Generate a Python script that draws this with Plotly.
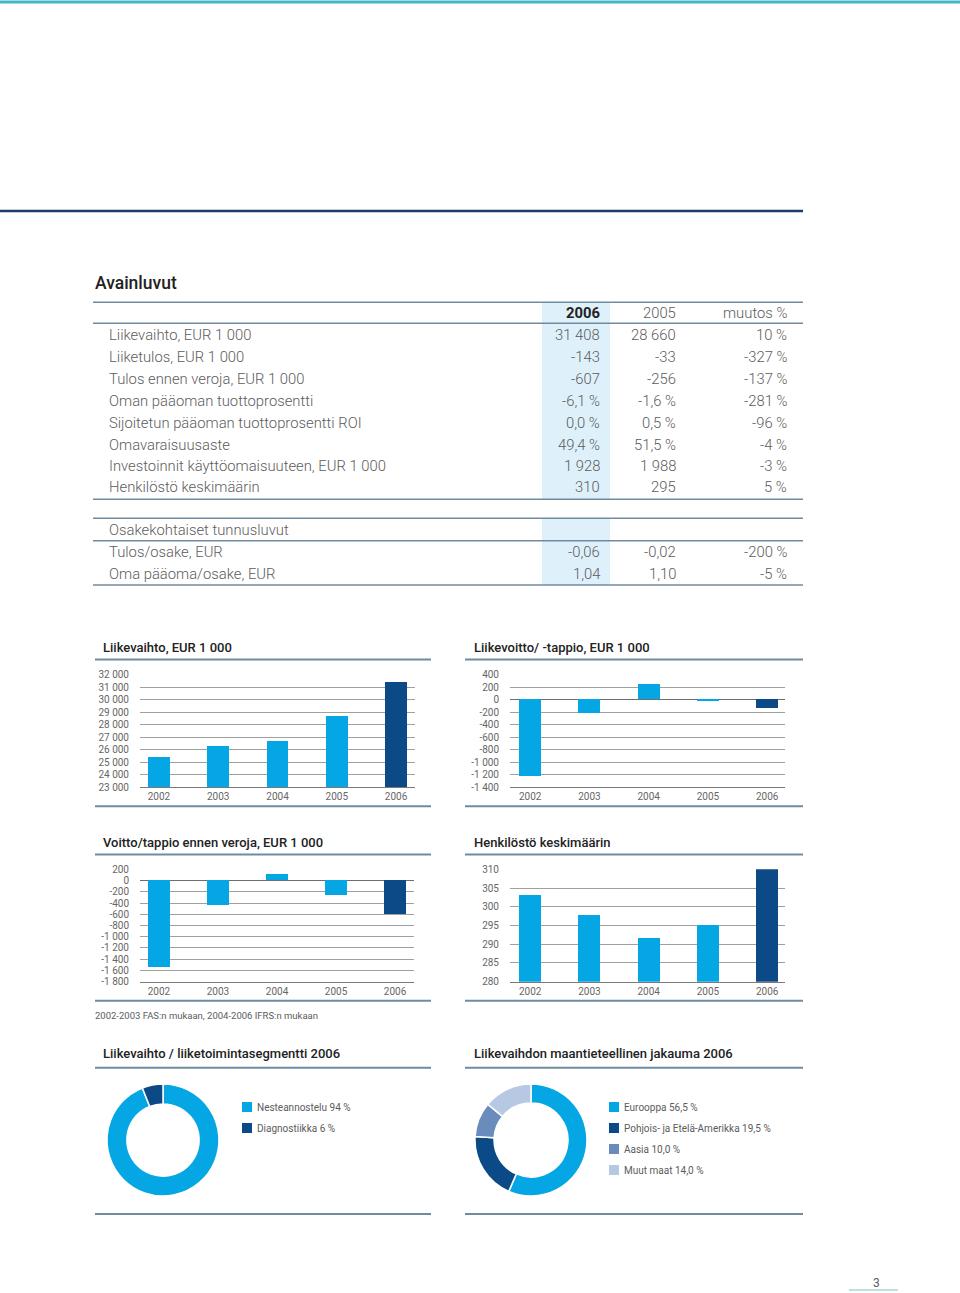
import plotly.graph_objects as go

# ---------------- data ----------------
table_title = "Avainluvut"
table_header = ["2006", "2005", "muutos %"]
table_labels = [
    "Liikevaihto, EUR 1 000",
    "Liiketulos, EUR 1 000",
    "Tulos ennen veroja, EUR 1 000",
    "Oman pääoman tuottoprosentti",
    "Sijoitetun pääoman tuottoprosentti ROI",
    "Omavaraisuusaste",
    "Investoinnit käyttöomaisuuteen, EUR 1 000",
    "Henkilöstö keskimäärin",
]
table_2006 = ["31 408", "-143", "-607", "-6,1 %", "0,0 %", "49,4 %", "1 928", "310"]
table_2005 = ["28 660", "-33", "-256", "-1,6 %", "0,5 %", "51,5 %", "1 988", "295"]
table_change = ["10 %", "-327 %", "-137 %", "-281 %", "-96 %", "-4 %", "-3 %", "5 %"]

share_title = "Osakekohtaiset tunnusluvut"
share_labels = ["Tulos/osake, EUR", "Oma pääoma/osake, EUR"]
share_2006 = ["-0,06", "1,04"]
share_2005 = ["-0,02", "1,10"]
share_change = ["-200 %", "-5 %"]

years = ["2002", "2003", "2004", "2005", "2006"]

c1_title = "Liikevaihto, EUR 1 000"
liikevaihto = [25400, 26300, 26650, 28660, 31408]
c1_ticks = [23000, 24000, 25000, 26000, 27000, 28000, 29000, 30000, 31000, 32000]
c1_ticktext = ["23 000", "24 000", "25 000", "26 000", "27 000", "28 000", "29 000", "30 000", "31 000", "32 000"]

c2_title = "Liikevoitto/ -tappio, EUR 1 000"
liikevoitto = [-1230, -214, 251, -33, -143]
c2_ticks = [400, 200, 0, -200, -400, -600, -800, -1000, -1200, -1400]
c2_ticktext = ["400", "200", "0", "-200", "-400", "-600", "-800", "-1 000", "-1 200", "-1 400"]

c3_title = "Voitto/tappio ennen veroja, EUR 1 000"
voitto_ennen_veroja = [-1543, -439, 119, -256, -607]
c3_ticks = [200, 0, -200, -400, -600, -800, -1000, -1200, -1400, -1600, -1800]
c3_ticktext = ["200", "0", "-200", "-400", "-600", "-800", "-1 000", "-1 200", "-1 400", "-1 600", "-1 800"]

c4_title = "Henkilöstö keskimäärin"
henkilosto = [303.1, 297.7, 291.6, 295, 310]
c4_ticks = [280, 285, 290, 295, 300, 305, 310]
c4_ticktext = ["280", "285", "290", "295", "300", "305", "310"]

footnote = "2002-2003 FAS:n mukaan, 2004-2006 IFRS:n mukaan"

p1_title = "Liikevaihto / liiketoimintasegmentti 2006"
p1_labels = ["Nesteannostelu 94 %", "Diagnostiikka 6 %"]
p1_values = [94, 6]

p2_title = "Liikevaihdon maantieteellinen jakauma 2006"
p2_labels = ["Eurooppa 56,5 %", "Pohjois- ja Etelä-Amerikka 19,5 %", "Aasia 10,0 %", "Muut maat 14,0 %"]
p2_values = [56.5, 19.5, 10.0, 14.0]

page_number = "3"

# ---------------- styles ----------------
W, H = 960, 1293
FONT = "Roboto"
LIGHT = "#04a6e4"
DARK = "#0b4a86"
P2_COLORS = [LIGHT, DARK, "#6a8cbd", "#b7c8e2"]
TEXT = "#5c5c5c"
HEAD = "#222222"
RULE = "#6f8ba1"
GRID = "#a0a0a0"
HIGHLIGHT = "#def1fb"


def X(px):
    return px / W


def Y(py):
    return 1 - py / H


fig = go.Figure()
annotations = []
shapes = []


def text(x, y, s, size=14.8, color=TEXT, anchor="left", weight=300):
    dx = -2 if anchor == "left" else 2
    annotations.append(dict(
        x=X(x + dx), y=Y(y + 0.5), xref="paper", yref="paper", text=s, showarrow=False,
        xanchor=anchor, yanchor="middle",
        font=dict(family=FONT, size=size, color=color, weight=weight),
    ))


def hline(x0, x1, y, color=RULE, width=1.5):
    shapes.append(dict(type="line", xref="paper", yref="paper",
                       x0=X(x0), x1=X(x1), y0=Y(y), y1=Y(y),
                       line=dict(color=color, width=width)))


def rect(x0, x1, y0, y1, color):
    shapes.append(dict(type="rect", xref="paper", yref="paper",
                       x0=X(x0), x1=X(x1), y0=Y(y0), y1=Y(y1),
                       fillcolor=color, line=dict(width=0), layer="below"))


# page decorations
hline(0, 960, 2, color="#41b5ca", width=3)
hline(0, 803, 211, color="#1c3d66", width=2.5)

# ---------------- key figures table ----------------
rect(542, 610, 303, 499, HIGHLIGHT)
rect(542, 610, 518, 585, HIGHLIGHT)

text(95, 283, table_title, size=17.5, color=HEAD, weight=500)
for yy in [302.3, 323.3, 499.3, 518.3, 540.7, 585]:
    hline(93, 803, yy)

col_x = [600, 676, 787]
text(col_x[0], 313, table_header[0], color=HEAD, anchor="right", weight="bold")
text(col_x[1], 313, table_header[1], anchor="right")
text(col_x[2], 313, table_header[2], anchor="right")

row_y = [335, 357, 379, 400.7, 422.3, 444, 465, 486.7]
for i, lab in enumerate(table_labels):
    text(109, row_y[i], lab)
    text(col_x[0], row_y[i], table_2006[i], anchor="right")
    text(col_x[1], row_y[i], table_2005[i], anchor="right")
    text(col_x[2], row_y[i], table_change[i], anchor="right")

text(109, 529.5, share_title)
share_y = [551.7, 573.3]
for i, lab in enumerate(share_labels):
    text(109, share_y[i], lab)
    text(col_x[0], share_y[i], share_2006[i], anchor="right")
    text(col_x[1], share_y[i], share_2005[i], anchor="right")
    text(col_x[2], share_y[i], share_change[i], anchor="right")

# ---------------- bar charts ----------------
bar_colors = [LIGHT] * 4 + [DARK]
charts = [
    dict(title=c1_title, vals=liikevaihto, ticks=c1_ticks, tt=c1_ticktext, rng=[22985, 32015],
         xd=(140, 415), yd=(674.3, 787.3), tx=103, ty=647, sec=(95, 431), xr=[-0.32, 4.32], zl=False),
    dict(title=c2_title, vals=liikevoitto, ticks=c2_ticks, tt=c2_ticktext, rng=[-1403, 403],
         xd=(510, 785), yd=(674.3, 787.3), tx=474, ty=647, sec=(465, 803), xr=[-0.34, 4.30], zl=True),
    dict(title=c3_title, vals=voitto_ennen_veroja, ticks=c3_ticks, tt=c3_ticktext, rng=[-1803, 203],
         xd=(140, 414), yd=(869.3, 981.7), tx=103, ty=842, sec=(95, 431), xr=[-0.32, 4.32], zl=True),
    dict(title=c4_title, vals=henkilosto, ticks=c4_ticks, tt=c4_ticktext, rng=[279.95, 310.05],
         xd=(510, 785), yd=(869.3, 981.7), tx=474, ty=842, sec=(465, 803), xr=[-0.34, 4.30], zl=False),
]

layout_axes = {}
for k, c in enumerate(charts, start=1):
    sfx = "" if k == 1 else str(k)
    fig.add_trace(go.Bar(
        x=years, y=c["vals"], marker=dict(color=bar_colors, line=dict(width=0)),
        width=0.37, xaxis="x" + sfx, yaxis="y" + sfx, hoverinfo="skip",
        showlegend=False,
    ))
    layout_axes["xaxis" + sfx] = dict(
        domain=[X(c["xd"][0]), X(c["xd"][1])], anchor="y" + sfx,
        type="category", range=c["xr"], showgrid=False, zeroline=False,
        showline=True, linecolor="#7a7a7a", linewidth=1, ticks="", fixedrange=True,
        tickfont=dict(family=FONT, size=10, color="#666"),
    )
    layout_axes["yaxis" + sfx] = dict(
        domain=[Y(c["yd"][1]), Y(c["yd"][0])], anchor="x" + sfx,
        range=c["rng"], tickvals=c["ticks"], ticktext=c["tt"],
        showgrid=True, gridcolor=GRID, gridwidth=1,
        zeroline=c["zl"], zerolinecolor="#6e6e6e", zerolinewidth=1,
        showline=False, ticks="outside", ticklen=8, tickcolor="rgba(0,0,0,0)",
        tickfont=dict(family=FONT, size=10, color="#666"), fixedrange=True,
    )
    text(c["tx"], c["ty"], c["title"], size=13, color=HEAD, weight=500)
    top = c["ty"] + 12.5
    bottom = c["yd"][1] + 19
    hline(c["sec"][0], c["sec"][1], top, width=2)
    hline(c["sec"][0], c["sec"][1], bottom, width=2)

text(95, 1015, footnote, size=9.5, weight="normal")

# ---------------- donut charts ----------------
fig.add_trace(go.Pie(
    values=p1_values, labels=p1_labels, hole=0.645, sort=False, direction="clockwise",
    rotation=0, marker=dict(colors=[LIGHT, DARK], line=dict(color="white", width=1.5)),
    textinfo="none", hoverinfo="skip", showlegend=False,
    domain=dict(x=[X(107), X(219)], y=[Y(1196), Y(1084)]),
))
fig.add_trace(go.Pie(
    values=p2_values, labels=p2_labels, hole=0.66, sort=False, direction="clockwise",
    rotation=0, marker=dict(colors=P2_COLORS, line=dict(color="white", width=1.5)),
    textinfo="none", hoverinfo="skip", showlegend=False,
    domain=dict(x=[X(475), X(587)], y=[Y(1196), Y(1084)]),
))

for tx, title, sec in [(103, p1_title, (95, 431)), (474, p2_title, (465, 803))]:
    text(tx, 1053, title, size=13, color=HEAD, weight=500)
    hline(sec[0], sec[1], 1067.7, width=2)
    hline(sec[0], sec[1], 1214, width=2)

leg_y = [1107, 1128, 1149, 1170]
for i, lab in enumerate(p1_labels):
    rect(242, 252, leg_y[i] - 5, leg_y[i] + 5, [LIGHT, DARK][i])
    text(257, leg_y[i], lab, size=10, weight="normal")
for i, lab in enumerate(p2_labels):
    rect(609, 619, leg_y[i] - 5, leg_y[i] + 5, P2_COLORS[i])
    text(624, leg_y[i], lab, size=10, weight="normal")

# page number
text(873, 1282, page_number, size=12, weight="normal")
hline(849, 898, 1290, color="#a5d6d2", width=1.5)

fig.update_layout(
    width=W, height=H, margin=dict(l=0, r=0, t=0, b=0, autoexpand=False),
    paper_bgcolor="white", plot_bgcolor="white",
    font=dict(family=FONT, color=TEXT),
    annotations=annotations, shapes=shapes, showlegend=False,
    bargap=0, **layout_axes,
)

fig.write_html(
    "out.html",
    config=dict(displayModeBar=False),
    post_script="document.body.style.margin='0';document.body.style.overflow='hidden';",
)
